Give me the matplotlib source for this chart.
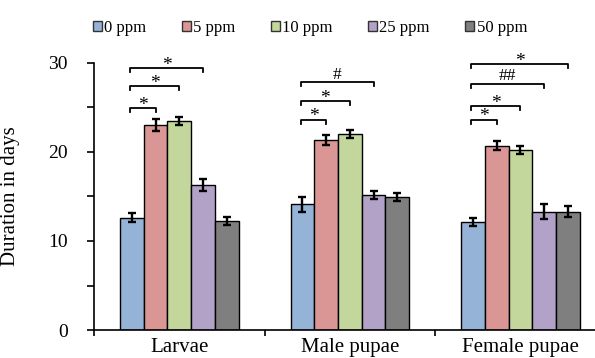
import numpy as np
import matplotlib.pyplot as plt
from matplotlib.patches import Patch

plt.rcParams['font.family'] = ['Liberation Serif', 'DejaVu Serif']

stages = ['Larvae', 'Male pupae', 'Female pupae']
conc = ['0 ppm', '5 ppm', '10 ppm', '25 ppm', '50 ppm']
colors = ['#95B3D7', '#D99694', '#C3D69B', '#B3A2C7', '#7F7F7F']

# mean duration (days) per stage, one list per concentration
d0 = [12.6, 14.1, 12.1]
d5 = [23.0, 21.3, 20.7]
d10 = [23.5, 22.0, 20.2]
d25 = [16.3, 15.2, 13.3]
d50 = [12.2, 14.9, 13.3]
e0 = [0.5, 0.85, 0.45]
e5 = [0.7, 0.55, 0.55]
e10 = [0.45, 0.5, 0.4]
e25 = [0.7, 0.45, 0.85]
e50 = [0.45, 0.45, 0.6]

# significance brackets: (stage, from bar, to bar, height, label)
sig_stage = [0, 0, 0, 1, 1, 1, 2, 2, 2, 2]
sig_from = [0, 0, 0, 0, 0, 0, 0, 0, 0, 0]
sig_to = [1, 2, 3, 1, 2, 3, 1, 2, 3, 4]
sig_y = [24.9, 27.4, 29.4, 23.6, 25.7, 27.8, 23.6, 25.1, 27.6, 29.8]
sig_lab = ['*', '*', '*', '*', '*', '#', '*', '*', '##', '*']

means = [d0, d5, d10, d25, d50]
errs = [e0, e5, e10, e25, e50]

fig = plt.figure(figsize=(5.95, 3.58), dpi=100)
ax = fig.add_axes([0.158, 0.078, 0.86, 0.747])

x = np.arange(len(stages))
w = 0.139
for i in range(5):
    ax.bar(x + (i - 2)*w, means[i], w, color=colors[i], edgecolor='black', lw=1.0,
           yerr=errs[i], error_kw=dict(ecolor='black', elinewidth=1.7, capsize=3, capthick=1.7),
           label=conc[i], zorder=2)

for s, a, b, y, lab in zip(sig_stage, sig_from, sig_to, sig_y, sig_lab):
    xa = s + (a - 2)*w - 0.01
    xb = s + (b - 2)*w
    ax.plot([xa, xa, xb, xb], [y - 0.45, y, y, y - 0.45], color='black', lw=1.3, clip_on=False)
    if lab == '*':
        ax.text((xa + xb)/2, y - 0.2, lab, ha='center', va='baseline', fontsize=14, clip_on=False)
    else:
        ax.text((xa + xb)/2, y + 0.4, lab, ha='center', va='baseline', fontsize=12.5, clip_on=False)

ax.set_xlim(-0.5, 2.5)
ax.set_ylim(0, 30)
ax.set_xticks(x)
ax.set_xticklabels(stages, fontsize=15)
ax.set_xticks([-0.5, 0.5, 1.5, 2.5], minor=True)
ax.tick_params(axis='x', which='major', length=0, pad=6)
ax.tick_params(axis='x', which='minor', length=4, width=1.2, direction='out')
ax.set_yticks([0, 10, 20, 30])
ax.set_yticks([5, 15, 25], minor=True)
ax.tick_params(axis='y', which='both', length=5, width=1.2, direction='out', pad=14, labelsize=14)
ax.set_ylabel('Duration in days', fontsize=15)
ax.yaxis.set_label_coords(-0.145, 0.5)
for side in ['top', 'right']:
    ax.spines[side].set_visible(False)
for side in ['left', 'bottom']:
    ax.spines[side].set_linewidth(1.2)

handles = [Patch(facecolor=c, edgecolor='#333333', lw=1.0) for c in colors]
fig.legend(handles, conc, loc='center left', bbox_to_anchor=(0.156, 0.922), ncol=5, frameon=False,
           fontsize=12, handlelength=0.55, handleheight=0.55, handletextpad=0.15,
           columnspacing=2.1, borderpad=0, borderaxespad=0)

fig.savefig('out.png', dpi=100)
